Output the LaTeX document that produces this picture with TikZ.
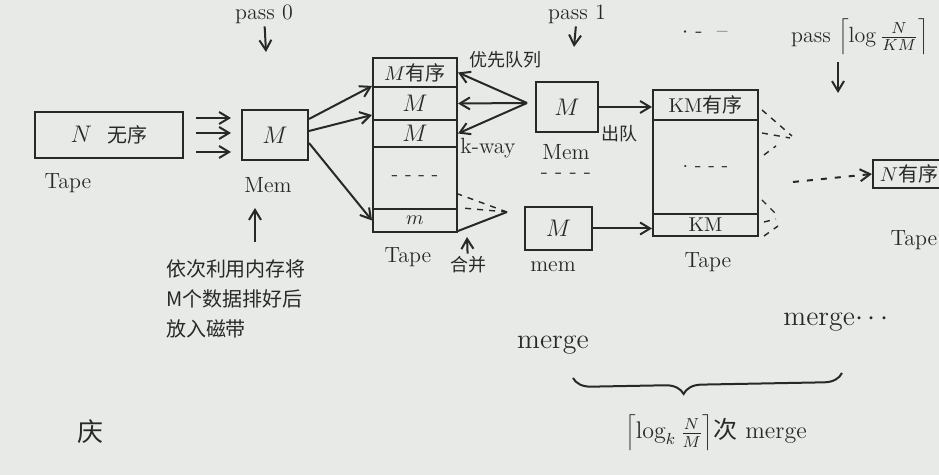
\documentclass[tikz,border=0pt]{standalone}
\usepackage{fontspec}
\newfontfamily\cjk{Noto Sans CJK SC}
\usetikzlibrary{arrows.meta,decorations.pathreplacing}
\definecolor{paper}{RGB}{232,234,232}
\definecolor{ink}{RGB}{40,40,40}

\begin{document}
\begin{tikzpicture}[x=0.5pt, y=-0.5pt, line width=1pt, draw=ink, text=ink,
    box/.style={draw, inner sep=0pt, font=\large},
    row/.style={box, minimum width=42pt},
    rowk/.style={box, minimum width=52.5pt, font=\normalsize},
    lbl/.style={inner sep=1pt, font=\fontsize{11}{13}\selectfont},
    zh/.style={inner sep=1pt, font=\cjk\fontsize{9}{11}\selectfont},
    dashmark/.style={dashed, line width=0.7pt},
    >={Straight Barb[length=5pt, width=6pt]}]
    \fill[paper] (0,0) rectangle (939,475);
    \useasboundingbox (0,0) rectangle (939,475);

    % pass 0
    \node[box, minimum width=74pt, minimum height=23pt] (tapeA) at (109,135) {$N$\ \ {\cjk\normalsize 无序}};
    \node[box, minimum width=33pt, minimum height=25pt] (memA) at (275,135) {$M$};
    \node[lbl] (tapeAlbl) at (68,183) {Tape};
    \node[lbl] (memAlbl) at (268,185) {Mem};
    \node[lbl] (passA) at (264,14) {pass 0};
    \coordinate (passAtip) at (266,52);
    \draw[->] (passA) -- (passAtip);
    \foreach \dy in {8.5,1,-8.5}
      \draw[->] ([shift={(6pt,\dy pt)}]tapeA.east) -- ([shift={(-5pt,\dy pt)}]memA.west);

    \coordinate (upA) at (255,242);
    \coordinate (upAtip) at (255,208);
    \draw[->] (upA) -- (upAtip);
    \node[inner sep=0pt, anchor=north west, align=left, font=\cjk\fontsize{10}{15}\selectfont] (note) at (165,259)
      {依次利用内存将\\M个数据排好后\\放入磁带};

    % first runs on tape
    \node[row, minimum height=14.5pt, font=\normalsize] (rowA1) at (415,72.5) {$M$\cjk 有序};
    \node[row, minimum height=16.5pt] (rowA2) at (415,103.5) {$M$};
    \node[row, minimum height=13.5pt] (rowA3) at (415,133.5) {$M$};
    \node[row, minimum height=31pt, font=\normalsize] (rowA4) at (415,178) {- - - -};
    \node[row, minimum height=11.5pt, font=\normalsize] (rowA5) at (415,220.5) {$m$};
    \node[lbl] (tapeBlbl) at (408,257) {Tape};
    \node[zh] (mergeA) at (468,265) {合并};
    \coordinate (mergeAtip) at (467,237);
    \draw[->] (mergeA) -- (mergeAtip);

    \draw[->] ([yshift=8pt]memA.east) -- (rowA2.north west);
    \draw[->] ([yshift=2pt]memA.east) -- ([yshift=2pt]rowA3.north west);
    \draw[->] ([yshift=-4pt]memA.east) -- (rowA5.west);

    % pass 1, k-way merge
    \node[lbl] (passB) at (577,14) {pass 1};
    \coordinate (passBtip) at (574,47);
    \draw[->] (passB) -- (passBtip);
    \node[box, minimum width=31pt, minimum height=25pt] (memB) at (567,107) {$M$};
    \node[lbl] (memBlbl) at (566,152) {Mem};
    \node[lbl] (memBdots) at (566,176) {- - - -};
    \node[zh] (pqlbl) at (505,60) {优先队列};
    \node[lbl] (kway) at (488,148) {k-way};
    \coordinate (pq) at (527,103);
    \foreach \r in {rowA1,rowA2,rowA3}
      \draw[->] (pq) -- (\r.east);

    \node[box, minimum width=33.5pt, minimum height=21.5pt] (memC) at (558.5,228.5) {$M$};
    \node[lbl] (memClbl) at (553,267) {mem};
    \coordinate (mc) at (507,212);
    \draw[dashmark] (mc) -- ([yshift=8pt]rowA4.south east);
    \draw[dashmark] (mc) -- ([xshift=2pt]rowA5.north east);
    \draw (mc) -- ([yshift=1pt]rowA5.south east);

    % runs of KM
    \node[rowk, minimum height=15pt] (rowB1) at (705.5,105) {KM\cjk 有序};
    \node[rowk, minimum height=47pt] (rowB2) at (705.5,167) {$\cdot$ - - -};
    \node[rowk, minimum height=11pt] (rowB3) at (705.5,225) {KM};
    \node[lbl] (tapeClbl) at (708,262) {Tape};
    \node[zh] (deq) at (619,134) {出队};
    \draw[->] (memB.east) -- (memB.east -| rowB1.west);
    \draw[->] (memC.east) -- (memC.east -| rowB3.west);
    \node[lbl] (etc) at (705,33) {$\cdot$ -\ \ --};

    \draw[dashmark] (762,110) -- (792,136);
    \draw[dashmark] (762,133) -- (790,138);
    \draw[dashmark] (764,155) -- (776,146);
    \draw[dashmark] (762,200) -- (778,216);
    \draw[dashmark] (764,222) -- (776,219);
    \draw[dashmark] (764,236) -- (778,226);

    % last pass
    \node[lbl] (passC) at (860,37) {pass $\left\lceil \log\frac{N}{KM}\right\rceil$};
    \coordinate (passCtop) at (838,62);
    \coordinate (passCtip) at (838,93);
    \draw[->] (passCtop) -- (passCtip);
    \node[box, minimum width=36pt, minimum height=14pt, font=\normalsize] (tapeC) at (909,174) {$N$\cjk 有序};
    \node[lbl] (tapeDlbl) at (914,240) {Tape};
    \coordinate (dotA) at (793,182);
    \draw[->, dash pattern=on 3pt off 4pt] (dotA) -- (tapeC.west);

    % number of merges
    \node[lbl, font=\fontsize{14}{16}\selectfont] (mergeB) at (553,345) {merge};
    \node[lbl, font=\fontsize{14}{16}\selectfont] (mergeC) at (836,322) {merge$\cdots$};
    \coordinate (brL) at (573,378);
    \coordinate (brR) at (842,373);
    \draw[decorate, decoration={brace, mirror, amplitude=9pt, aspect=0.41}] (brL) -- (brR);
    \node[lbl, font=\fontsize{12}{14}\selectfont] (passes) at (716,433) {$\left\lceil\log_k\frac{N}{M}\right\rceil${\cjk 次} merge};

    \node[inner sep=0pt, font=\cjk\fontsize{13}{15}\selectfont] (sign) at (90,432) {庆};
\end{tikzpicture}
\end{document}
